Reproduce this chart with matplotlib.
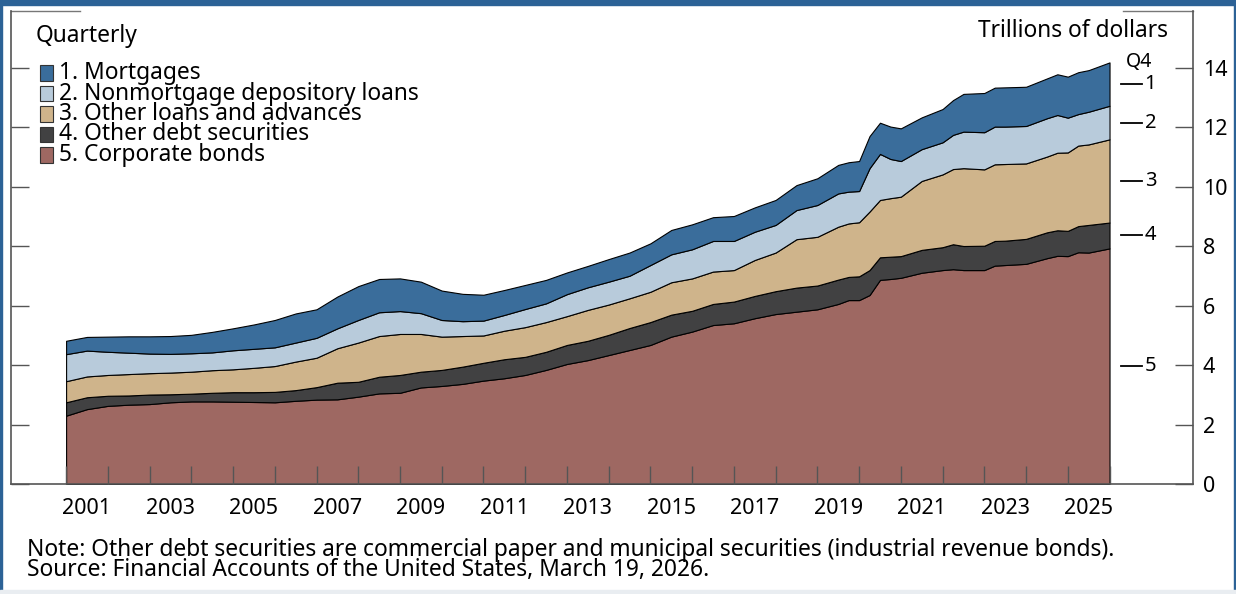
import numpy as np
import matplotlib
matplotlib.use("Agg")
import matplotlib.pyplot as plt
from matplotlib.patches import Rectangle
from matplotlib.lines import Line2D

plt.rcParams['font.family'] = ['Noto Sans', 'DejaVu Sans']

# quarterly readings (decimal year of quarter end), trillions of dollars
dates = [2001.0, 2001.5, 2002.0, 2002.5, 2003.0, 2003.5, 2004.0, 2004.5, 2005.0, 2005.5,
         2006.0, 2006.5, 2007.0, 2007.5, 2008.0, 2008.5, 2009.0, 2009.5, 2010.0, 2010.5,
         2011.0, 2011.5, 2012.0, 2012.5, 2013.0, 2013.5, 2014.0, 2014.5, 2015.0, 2015.5,
         2016.0, 2016.5, 2017.0, 2017.5, 2018.0, 2018.5, 2019.0, 2019.5, 2019.75, 2020.0,
         2020.25, 2020.5, 2020.75, 2021.0, 2021.5, 2022.0, 2022.25, 2022.5, 2023.0, 2023.25,
         2023.5, 2024.0, 2024.5, 2024.75, 2025.0, 2025.25, 2025.5, 2026.0]

corporate_bonds = [2.30, 2.52, 2.63, 2.67, 2.69, 2.75, 2.78, 2.78, 2.77, 2.76,
                   2.75, 2.80, 2.84, 2.85, 2.94, 3.05, 3.07, 3.25, 3.30, 3.37,
                   3.48, 3.56, 3.67, 3.84, 4.04, 4.17, 4.34, 4.51, 4.68, 4.96,
                   5.13, 5.35, 5.41, 5.58, 5.72, 5.80, 5.88, 6.06, 6.19, 6.19,
                   6.36, 6.87, 6.90, 6.94, 7.11, 7.20, 7.23, 7.20, 7.20, 7.35,
                   7.37, 7.41, 7.60, 7.68, 7.67, 7.80, 7.79, 7.93]
other_debt = [0.45, 0.40, 0.34, 0.31, 0.32, 0.27, 0.26, 0.29, 0.32, 0.33,
              0.35, 0.36, 0.42, 0.56, 0.50, 0.56, 0.60, 0.53, 0.54, 0.58,
              0.60, 0.64, 0.61, 0.61, 0.64, 0.65, 0.68, 0.74, 0.77, 0.74,
              0.70, 0.71, 0.73, 0.75, 0.77, 0.81, 0.80, 0.82, 0.78, 0.80,
              0.84, 0.76, 0.75, 0.73, 0.77, 0.77, 0.84, 0.81, 0.82, 0.83,
              0.82, 0.84, 0.87, 0.86, 0.85, 0.88, 0.93, 0.87]
other_loans = [0.71, 0.70, 0.70, 0.72, 0.72, 0.73, 0.74, 0.76, 0.77, 0.82,
               0.87, 0.96, 0.99, 1.16, 1.32, 1.37, 1.38, 1.27, 1.12, 1.03,
               0.92, 0.96, 1.00, 1.00, 0.97, 1.04, 1.02, 1.00, 1.02, 1.09,
               1.09, 1.09, 1.06, 1.21, 1.30, 1.63, 1.64, 1.78, 1.80, 1.82,
               1.97, 1.93, 1.97, 2.00, 2.32, 2.45, 2.53, 2.62, 2.57, 2.58,
               2.58, 2.54, 2.55, 2.61, 2.64, 2.71, 2.71, 2.80]
nonmortgage = [0.91, 0.87, 0.78, 0.72, 0.66, 0.63, 0.62, 0.60, 0.64, 0.64,
               0.63, 0.64, 0.67, 0.67, 0.76, 0.80, 0.77, 0.70, 0.56, 0.50,
               0.50, 0.53, 0.61, 0.63, 0.74, 0.76, 0.77, 0.76, 0.90, 0.94,
               0.98, 1.03, 0.98, 0.95, 0.93, 0.98, 1.07, 1.12, 1.07, 1.05,
               1.46, 1.55, 1.32, 1.20, 1.07, 1.08, 1.15, 1.23, 1.25, 1.27,
               1.26, 1.26, 1.29, 1.27, 1.17, 1.06, 1.10, 1.13]
mortgages = [0.45, 0.46, 0.51, 0.55, 0.58, 0.60, 0.62, 0.69, 0.74, 0.82,
             0.92, 0.98, 0.96, 1.07, 1.14, 1.12, 1.10, 1.06, 0.99, 0.92,
             0.87, 0.84, 0.81, 0.79, 0.73, 0.72, 0.76, 0.78, 0.73, 0.82,
             0.84, 0.80, 0.84, 0.82, 0.84, 0.84, 0.90, 0.96, 0.99, 1.01,
             1.08, 1.05, 1.09, 1.10, 1.07, 1.12, 1.17, 1.27, 1.32, 1.31,
             1.32, 1.32, 1.34, 1.37, 1.38, 1.41, 1.40, 1.46]

labels = ["1. Mortgages", "2. Nonmortgage depository loans", "3. Other loans and advances",
          "4. Other debt securities", "5. Corporate bonds"]
colors = ["#3a6d9b", "#b8cbdb", "#cfb48b", "#414142", "#9e6862"]
year_labels = [str(y) for y in range(2001, 2027, 2)]
y_ticks = [0, 2, 4, 6, 8, 10, 12, 14]

W, H = 1236, 594
TXT = 16.4


def fx(px):
    return px / W


def fy(py):
    return 1 - py / H


fig = plt.figure(figsize=(W / 100, H / 100), dpi=100)
ax = fig.add_axes([fx(11), fy(484), fx(1193) - fx(11), fy(11) - fy(484)])

# stack bottom to top: 5, 4, 3, 2, 1
series = [corporate_bonds, other_debt, other_loans, nonmortgage, mortgages]
ax.stackplot(dates, *series, colors=colors[::-1], edgecolor="black", linewidth=0.8)

ax.set_xlim(1999.68, 2028.0)
ax.set_ylim(0, 15.92)

# axis frame
for side in ["left", "right", "bottom"]:
    ax.spines[side].set_color("#555555")
    ax.spines[side].set_linewidth(1.2)
ax.spines["top"].set_visible(False)
for x0, x1 in [(0, 0.058), (0.941, 1.0)]:
    ax.add_line(Line2D([x0, x1], [1, 1], transform=ax.transAxes, color="#777777",
                       lw=1.0, clip_on=False))

ax.set_yticks(y_ticks)
ax.set_yticklabels([str(v) for v in y_ticks])
ax.tick_params(axis="y", which="both", left=True, right=True, labelleft=False,
               labelright=True, direction="in", length=13, width=1.0, color="#555555",
               labelsize=15.5, pad=7)

ax.set_xticks(range(2001, 2027))
ax.set_xticklabels([])
ax.set_xticks([int(y) + 0.5 for y in year_labels], minor=True)
ax.set_xticklabels(year_labels, minor=True)
ax.tick_params(axis="x", which="major", direction="in", length=13, width=1.0,
               color="#555555", top=False)
ax.tick_params(axis="x", which="minor", length=0, labelsize=15.5, pad=10)

# end-of-series labels at band midpoints
tops = np.cumsum([s[-1] for s in series])
bottoms = np.concatenate([[0], tops[:-1]])
mids = (tops + bottoms) / 2
for i, m in enumerate(mids):
    num = 5 - i
    ax.add_line(Line2D([2026.27, 2026.78], [m, m], color="black", lw=1.3, clip_on=False))
    ax.text(2026.84, m, str(num), va="center", ha="left", fontsize=14.5, clip_on=False)

fig.text(fx(1139), fy(62), "Q4", ha="center", va="center", fontsize=14)
fig.text(fx(1168), fy(31), "Trillions of dollars", ha="right", va="center", fontsize=TXT)
fig.text(fx(36), fy(36), "Quarterly", ha="left", va="center", fontsize=TXT)

# legend drawn by hand
row_y = [73, 93.5, 114, 134.5, 155]
for lab, col, yy in zip(labels, colors, row_y):
    fig.patches.append(Rectangle((fx(40), fy(yy + 7.5)), 13 / W, 15 / H,
                                 transform=fig.transFigure, facecolor=col,
                                 edgecolor="#333333", lw=0.8))
    fig.text(fx(59), fy(yy), lab, ha="left", va="center", fontsize=TXT)

fig.text(fx(27), fy(550), "Note: Other debt securities are commercial paper and municipal "
         "securities (industrial revenue bonds).", ha="left", va="center", fontsize=TXT)
fig.text(fx(27), fy(570), "Source: Financial Accounts of the United States, March 19, 2026.",
         ha="left", va="center", fontsize=TXT)

# outer frame
fig.patches.append(Rectangle((0, fy(5)), 1, 5 / H, transform=fig.transFigure,
                             color="#2c6296"))
fig.patches.append(Rectangle((0, 0), 2 / W, 1, transform=fig.transFigure, color="#2c6296"))
fig.patches.append(Rectangle((1 - 2 / W, 0), 2 / W, 1, transform=fig.transFigure,
                             color="#2c6296"))
fig.patches.append(Rectangle((0, 0), 1, 4 / H, transform=fig.transFigure, color="#e9edf1"))

fig.savefig("out.png", dpi=100)
